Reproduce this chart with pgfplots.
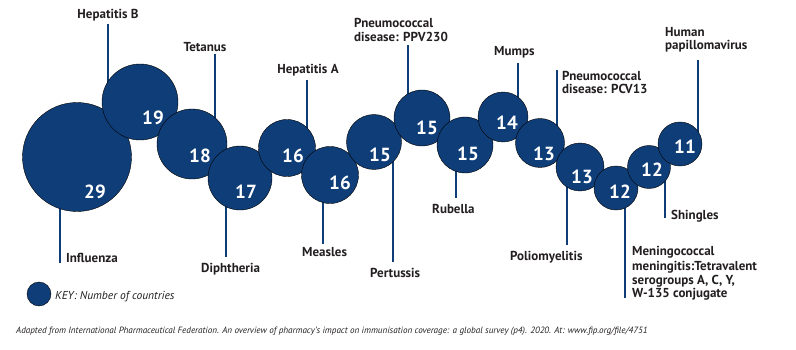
\documentclass[border=0pt]{standalone}
\usepackage{pgfplots}
\pgfplotsset{compat=1.18}
\usepackage{pgfplotstable}
\usepackage{fontspec}
\setmainfont{PT Sans}
\definecolor{bub}{HTML}{0F3D77}
\definecolor{txt}{HTML}{231F20}
\tikzset{lbl/.style={font=\fontsize{13}{14}\selectfont\bfseries, text=txt, inner sep=0pt}}

% bubble centre (x,y in px, y downward), radius, value, number position
\pgfplotstableread{
x y r v lx ly
77 157 54.5 29 95 192
140 102 38 19 153 118
192 144 35 18 200 156
240 178 32 17 246 192
287 148 28.5 16 293 156
330 175 28.5 16 340 183
374 142 27.5 15 380 155
422 118 28 15 427 128
465 145 28 15 468 154
503 117 25 14 507 123
540 143 24.5 13 544 154
580 167 24 13 582 177
616 188 22 12 620 192
649 167 21.5 12 652 170
680 144 22 11 685 147
}\bubbles

\begin{document}
\begin{tikzpicture}
\begin{axis}[
  width=796pt, height=350pt, scale only axis,
  xmin=0, xmax=796, ymin=0, ymax=350, y dir=reverse,
  axis line style={draw=none}, xtick=\empty, ytick=\empty,
  clip=false,
]
% leader lines
\addplot[bub, line width=2pt] coordinates {(108,24) (108,95)};
\addplot[bub, line width=2pt] coordinates {(215,54) (215,125)};
\addplot[bub, line width=2pt] coordinates {(307,80) (307,135)};
\addplot[bub, line width=2pt] coordinates {(408,45) (408,100)};
\addplot[bub, line width=2pt] coordinates {(518,63) (518,105)};
\addplot[bub, line width=2pt] coordinates {(557,70) (557,135)};
\addplot[bub, line width=2pt] coordinates {(698,60) (698,140)};
\addplot[bub, line width=2pt] coordinates {(60,190) (60,263)};
\addplot[bub, line width=2pt] coordinates {(226,190) (226,257)};
\addplot[bub, line width=2pt] coordinates {(323,190) (323,244)};
\addplot[bub, line width=2pt] coordinates {(393,150) (393,262)};
\addplot[bub, line width=2pt] coordinates {(456,160) (456,198)};
\addplot[bub, line width=2pt] coordinates {(567,180) (567,245)};
\addplot[bub, line width=2pt] coordinates {(625,200) (625,298)};
\addplot[bub, line width=2pt] coordinates {(665,175) (665,218)};
% bubbles
\addplot[scatter, only marks, mark=*, scatter src=explicit,
  scatter/use mapped color={draw=none, fill=bub},
  visualization depends on={\thisrow{r} \as \rad},
  scatter/@pre marker code/.append style={/tikz/mark size=\rad pt}]
  table[x=x, y=y, meta=v] {\bubbles};
% key bubble
\addplot[only marks, mark=*, mark size=12, draw=none, fill=bub] coordinates {(39,294)};
% numbers
\addplot[only marks, mark=none, point meta=explicit symbolic,
  nodes near coords, nodes near coords align=center,
  every node near coord/.style={font=\fontsize{19}{20}\selectfont\bfseries, text=white, anchor=center, inner sep=0pt}]
  table[x=lx, y=ly, meta=v] {\bubbles};
% labels
\node[lbl, anchor=base] at (axis cs:108,19) {Hepatitis B};
\node[lbl, anchor=base] at (axis cs:205,51.5) {Tetanus};
\node[lbl, anchor=base] at (axis cs:308,74) {Hepatitis A};
\node[lbl, anchor=base west] at (axis cs:354,28) {Pneumococcal};
\node[lbl, anchor=base west] at (axis cs:354,41.5) {disease: PPV230};
\node[lbl, anchor=base west] at (axis cs:494,56) {Mumps};
\node[lbl, anchor=base west] at (axis cs:562,80.5) {Pneumococcal};
\node[lbl, anchor=base west] at (axis cs:562,94) {disease: PCV13};
\node[lbl, anchor=base west] at (axis cs:665,37) {Human};
\node[lbl, anchor=base west] at (axis cs:665,50) {papillomavirus};
\node[lbl, anchor=base west] at (axis cs:66,262) {Influenza};
\node[lbl, anchor=base west] at (axis cs:201,272.5) {Diphtheria};
\node[lbl, anchor=base west] at (axis cs:302,256.5) {Measles};
\node[lbl, anchor=base west] at (axis cs:370,277.5) {Pertussis};
\node[lbl, anchor=base west] at (axis cs:432,214) {Rubella};
\node[lbl, anchor=base west] at (axis cs:510,261) {Poliomyelitis};
\node[lbl, anchor=base west] at (axis cs:671,219) {Shingles};
\node[lbl, anchor=base west] at (axis cs:632,255.5) {Meningococcal};
\node[lbl, anchor=base west] at (axis cs:632,270) {meningitis:Tetravalent};
\node[lbl, anchor=base west] at (axis cs:632,284) {serogroups A, C, Y,};
\node[lbl, anchor=base west] at (axis cs:632,298) {W-135 conjugate};
\node[font=\fontsize{11.5}{13}\selectfont\itshape, text=txt, inner sep=0pt, anchor=base west] at (axis cs:55,299) {KEY: Number of countries};
\node[font=\fontsize{9.1}{10}\selectfont\itshape, text=txt, inner sep=0pt, anchor=base west] at (axis cs:16,333) {Adapted from International Pharmaceutical Federation. An overview of pharmacy's impact on immunisation coverage: a global survey (p4). 2020. At: www.fip.org/file/4751};
\end{axis}
\end{tikzpicture}
\end{document}
